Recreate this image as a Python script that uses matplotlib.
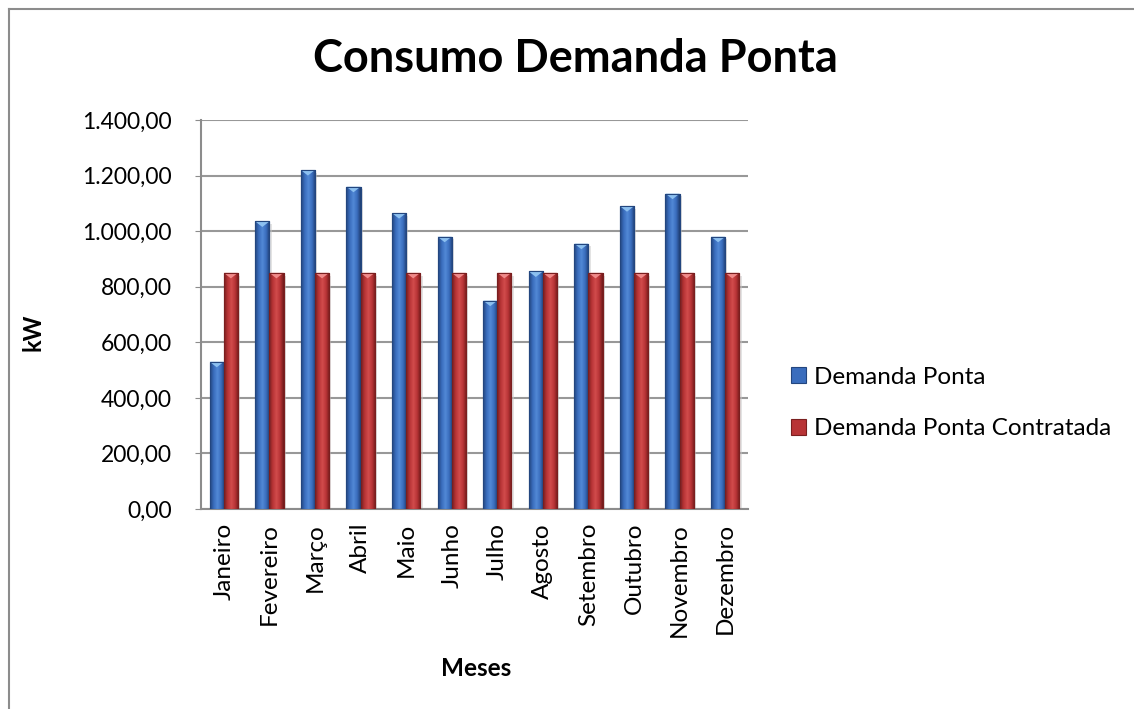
import numpy as np
import matplotlib.pyplot as plt
from matplotlib.colors import LinearSegmentedColormap
from matplotlib.patches import Polygon, Rectangle
from matplotlib.lines import Line2D

plt.rcParams['font.family'] = ['Lato', 'DejaVu Sans']

# monthly peak demand (kW)
meses = ["Janeiro", "Fevereiro", "Março", "Abril", "Maio", "Junho",
         "Julho", "Agosto", "Setembro", "Outubro", "Novembro", "Dezembro"]
demanda_ponta = [530, 1035, 1220, 1160, 1065, 980, 750, 855, 955, 1090, 1135, 980]
demanda_contratada = [850] * 12

series = [
    ("Demanda Ponta", demanda_ponta,
     ["#23467f", "#3a6dbd", "#5289d6", "#3a6dbd", "#1f3d70"], "#8cc0f0"),
    ("Demanda Ponta Contratada", demanda_contratada,
     ["#7a1f1f", "#b83436", "#d24c4c", "#b83436", "#6e1a1a"], "#f08a8a"),
]

W, H = 1134, 709
fig = plt.figure(figsize=(W / 100, H / 100), dpi=100)
ax = fig.add_axes([201 / W, 1 - 509 / H, 547 / W, 389 / H])

# outer chart frame (only top and left edges fall inside the image)
fx, fy = 8.5 / W, 1 - 8.5 / H
fig.add_artist(Line2D([fx, 1.01], [fy, fy], transform=fig.transFigure,
                      color="#8c8c8c", lw=1.5))
fig.add_artist(Line2D([fx, fx], [-0.01, fy], transform=fig.transFigure,
                      color="#8c8c8c", lw=1.5))

x = np.arange(len(meses))
w = 0.31
grad = np.linspace(0, 1, 64).reshape(1, -1)

handles = []
for i, (name, vals, stops, tip) in enumerate(series):
    offs = -w / 2 if i == 0 else w / 2
    cmap = LinearSegmentedColormap.from_list(name, stops)
    bars = ax.bar(x + offs, vals, w, color=stops[1], edgecolor=stops[0],
                  linewidth=0.8, zorder=3, label=name)
    handles.append(bars)
    for b in bars:
        x0, x1, h = b.get_x(), b.get_x() + b.get_width(), b.get_height()
        # soft shadow on the right
        ax.add_patch(Rectangle((x1, 0), 0.05, h - 10, color="#c8c8c8",
                               alpha=0.5, lw=0, zorder=2))
        im = ax.imshow(grad, cmap=cmap, extent=(x0, x1, 0, h),
                       aspect="auto", zorder=3.5)
        im.set_clip_path(b)
        tri = Polygon([(x0, h), (x1, h), ((x0 + x1) / 2, h - 20)],
                      closed=True, facecolor=tip, edgecolor="none", zorder=4)
        ax.add_patch(tri)
        ax.add_patch(Rectangle((x0, 0), w, h, fill=False,
                               edgecolor=stops[0], lw=0.8, zorder=4.5))

ax.set_xlim(-0.5, len(meses) - 0.5)
ax.set_ylim(0, 1400)
yt = np.arange(0, 1401, 200)
ax.set_yticks(yt)
ax.set_yticklabels([f"{v:,.2f}".replace(",", "X").replace(".", ",").replace("X", ".")
                    for v in yt], fontsize=16.5)
ax.set_xticks(x)
ax.set_xticklabels(meses, rotation=90, fontsize=17.5)
ax.tick_params(axis="x", length=0, pad=10)
ax.tick_params(axis="y", length=4, color="#8c8c8c", pad=17)
ax.grid(axis="y", color="#989898", lw=1.5, zorder=0)
for side in ["top", "right"]:
    ax.spines[side].set_visible(False)
for side in ["left", "bottom"]:
    ax.spines[side].set_color("#8c8c8c")
    ax.spines[side].set_linewidth(1.5)

fig.text(33 / W, 1 - 332 / H, "kW", fontsize=17, fontweight="bold",
         rotation=90, ha="center", va="center")
fig.text(476 / W, 1 - 668 / H, "Meses", fontsize=17.5, fontweight="bold",
         ha="center", va="center")
fig.text(575 / W, 1 - 59 / H, "Consumo Demanda Ponta", fontsize=32.5,
         fontweight="bold", ha="center", va="center")

leg = fig.legend(handles=handles, loc="center left",
                 bbox_to_anchor=(769 / W, 1 - 403 / H), frameon=False,
                 fontsize=17.5, handlelength=0.62, handleheight=0.62,
                 handletextpad=0.35, labelspacing=1.25)

fig.savefig("out.png", dpi=100)
